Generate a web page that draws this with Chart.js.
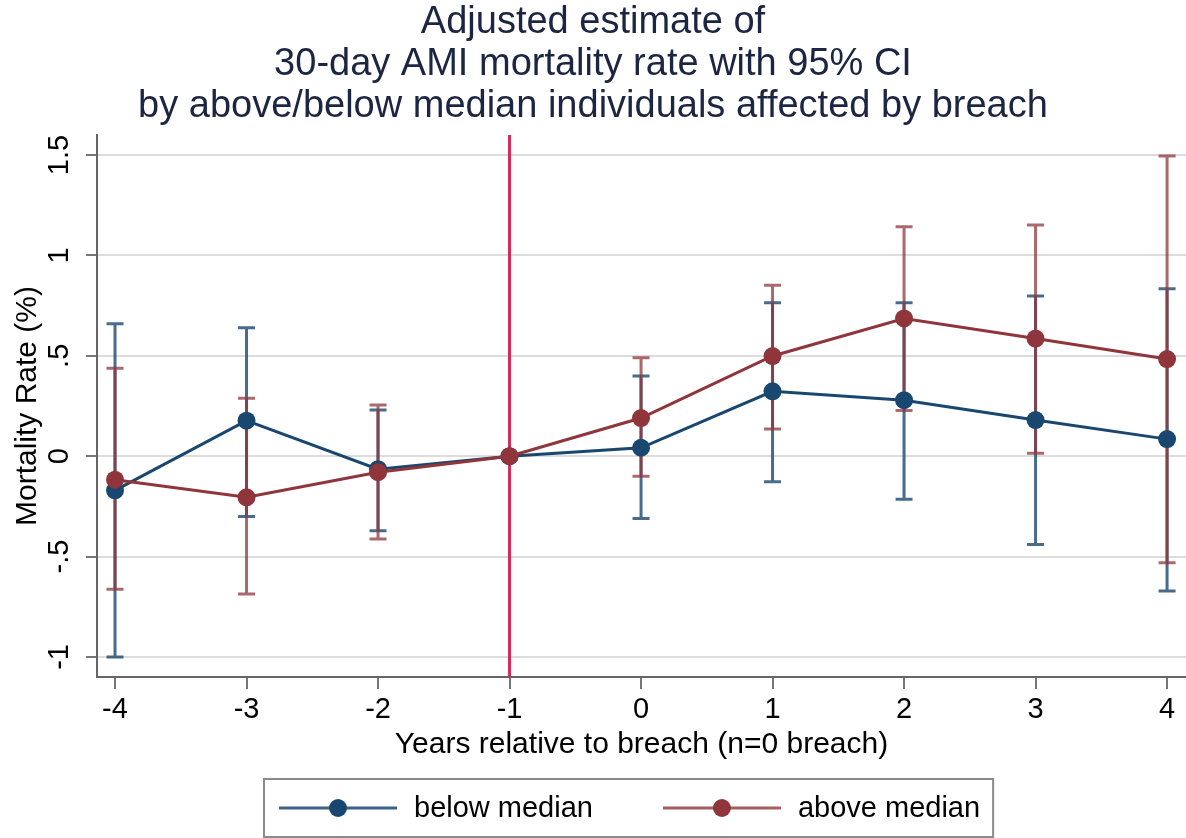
<!DOCTYPE html>
<html><head><meta charset="utf-8">
<script src="https://cdn.jsdelivr.net/npm/chart.js@4.4.1/dist/chart.umd.min.js"></script>
<style>html,body{margin:0;padding:0;background:#fff;overflow:hidden}</style>
</head><body>
<canvas id="c" width="1186" height="838"></canvas>
<script>
// ---- data ----
const years = [-4, -3, -2, -1, 0, 1, 2, 3, 4];
const belowMedian      = [-0.170, 0.177, -0.065, 0, 0.042, 0.323, 0.279, 0.180, 0.085];
const belowMedianLower = [-1.000, -0.300, -0.372, null, -0.310, -0.127, -0.214, -0.440, -0.671];
const belowMedianUpper = [0.660, 0.640, 0.230, null, 0.400, 0.764, 0.764, 0.798, 0.834];
const aboveMedian      = [-0.117, -0.205, -0.080, 0, 0.190, 0.499, 0.686, 0.586, 0.484];
const aboveMedianLower = [-0.663, -0.687, -0.413, null, -0.100, 0.136, 0.227, 0.015, -0.531];
const aboveMedianUpper = [0.438, 0.288, 0.255, null, 0.490, 0.851, 1.143, 1.152, 1.496];
const seriesLabels = ['below median', 'above median'];
const xTickValues = [-4, -3, -2, -1, 0, 1, 2, 3, 4];
const yTickValues = [-1, -0.5, 0, 0.5, 1, 1.5];
const breachYear = -1;
const titleLines = ['Adjusted estimate of', '30-day AMI mortality rate with 95% CI', 'by above/below median individuals affected by breach'];
const xTitle = 'Years relative to breach (n=0 breach)';
const yTitle = 'Mortality Rate (%)';

const FONT = "'Liberation Sans', Arial, Helvetica, sans-serif";
const BLUE = '#1a476f', RED = '#90353b';
const BLUE_CI = 'rgba(26,71,111,0.80)', RED_CI = 'rgba(144,53,59,0.75)';

function fmt(v) {
  if (v === 0) return '0';
  const a = Math.abs(v);
  const s = (a < 1 ? String(a).replace(/^0\./, '.') : String(a));
  return (v < 0 ? '-' : '') + s;
}
const pts = arr => years.map((x, i) => ({ x: x, y: arr[i] }));

const errorBars = [
  { lower: belowMedianLower, upper: belowMedianUpper, color: BLUE_CI },
  { lower: aboveMedianLower, upper: aboveMedianUpper, color: RED_CI }
];

const extras = {
  id: 'extras',
  beforeDatasetsDraw(chart) {
    const { ctx, chartArea: a, scales: { x, y } } = chart;
    ctx.save();
    const bx = x.getPixelForValue(breachYear);
    ctx.strokeStyle = '#d42a5b';
    ctx.lineWidth = 3;
    ctx.beginPath(); ctx.moveTo(bx, a.top); ctx.lineTo(bx, a.bottom); ctx.stroke();
    const half = 8.5;
    errorBars.forEach(eb => {
      ctx.strokeStyle = eb.color;
      ctx.lineWidth = 3;
      years.forEach((yr, i) => {
        if (eb.lower[i] == null) return;
        const px = x.getPixelForValue(yr);
        const lo = y.getPixelForValue(eb.lower[i]);
        const hi = y.getPixelForValue(eb.upper[i]);
        ctx.beginPath();
        ctx.moveTo(px, lo); ctx.lineTo(px, hi);
        ctx.moveTo(px - half, lo); ctx.lineTo(px + half, lo);
        ctx.moveTo(px - half, hi); ctx.lineTo(px + half, hi);
        ctx.stroke();
      });
    });
    ctx.restore();
  },
  afterDraw(chart) {
    const { ctx, scales: { y } } = chart;
    ctx.save();
    ctx.fillStyle = '#000';
    ctx.font = '29px ' + FONT;
    ctx.textAlign = 'center';
    ctx.textBaseline = 'middle';
    y.ticks.forEach(t => {
      const py = y.getPixelForValue(t.value);
      ctx.save();
      ctx.translate(60, py);
      ctx.rotate(-Math.PI / 2);
      ctx.fillText(fmt(t.value), 0, 0);
      ctx.restore();
    });
    const ds = chart.data.datasets;
    ctx.font = '29px ' + FONT;
    const sampleW = 118, g1 = 17, g2 = 70, padL = 15, padR = 13;
    const widths = ds.map(d => ctx.measureText(d.label).width);
    let inner = 0;
    widths.forEach((w, i) => { inner += sampleW + g1 + w + (i < widths.length - 1 ? g2 : 0); });
    const boxW = padL + inner + padR;
    const cx = 629;
    const bx0 = Math.round(cx - boxW / 2), by0 = 779, bh = 58;
    ctx.strokeStyle = '#8a8a8a';
    ctx.lineWidth = 2;
    ctx.strokeRect(bx0, by0, boxW, bh);
    let xx = bx0 + padL;
    const cy = by0 + bh / 2;
    ds.forEach((d, i) => {
      ctx.strokeStyle = d.legendLine;
      ctx.lineWidth = 3;
      ctx.beginPath(); ctx.moveTo(xx, cy); ctx.lineTo(xx + sampleW, cy); ctx.stroke();
      ctx.fillStyle = d.borderColor;
      ctx.beginPath(); ctx.arc(xx + sampleW / 2, cy, 9, 0, Math.PI * 2); ctx.fill();
      xx += sampleW + g1;
      ctx.fillStyle = '#000';
      ctx.textAlign = 'left';
      ctx.textBaseline = 'middle';
      ctx.fillText(d.label, xx, cy + 1);
      xx += widths[i] + g2;
    });
    ctx.restore();
  }
};

new Chart(document.getElementById('c'), {
  type: 'line',
  data: {
    datasets: [
      { label: seriesLabels[0], data: pts(belowMedian), borderColor: BLUE, backgroundColor: BLUE,
        legendLine: 'rgba(26,71,111,0.85)', borderWidth: 3, pointRadius: 9, pointBorderWidth: 0,
        pointBackgroundColor: BLUE, tension: 0, order: 2, clip: false },
      { label: seriesLabels[1], data: pts(aboveMedian), borderColor: RED, backgroundColor: RED,
        legendLine: 'rgba(144,53,59,0.8)', borderWidth: 3, pointRadius: 9, pointBorderWidth: 0,
        pointBackgroundColor: RED, tension: 0, order: 1, clip: false }
    ]
  },
  options: {
    responsive: false,
    animation: false,
    devicePixelRatio: 1,
    layout: { autoPadding: false, padding: { top: 0, left: 0, right: 0, bottom: 75 } },
    plugins: {
      legend: { display: false },
      tooltip: { enabled: false },
      title: {
        display: true, text: titleLines, color: '#1c2541',
        font: { family: FONT, size: 38, weight: 'normal', lineHeight: 1.1 },
        padding: { top: 2, bottom: 7.6 }
      }
    },
    scales: {
      x: {
        type: 'linear', min: -4.137, max: 4.144,
        afterBuildTicks: s => { s.ticks = xTickValues.map(v => ({ value: v })); },
        afterFit: s => { s.height = 86; s.paddingRight = 0; s.paddingLeft = 0; },
        grid: { drawOnChartArea: false, drawTicks: true, tickLength: 12, tickColor: '#777', tickWidth: 2, lineWidth: 2 },
        border: { color: '#666', width: 2 },
        ticks: { color: '#000', font: { family: FONT, size: 29 }, padding: 4, maxRotation: 0, autoSkip: false, callback: v => fmt(v) },
        title: { display: true, text: xTitle, color: '#000', font: { family: FONT, size: 30 }, padding: { top: 0, bottom: 0 } }
      },
      y: {
        type: 'linear', min: -1.1, max: 1.6,
        afterBuildTicks: s => { s.ticks = yTickValues.map(v => ({ value: v })); },
        afterFit: s => { s.width = 97; s.paddingTop = 0; s.paddingBottom = 0; },
        grid: { color: '#dcdcdc', lineWidth: 2, drawTicks: true, tickLength: 11, tickColor: '#777', tickWidth: 2 },
        border: { color: '#666', width: 2 },
        ticks: { display: false },
        title: { display: true, text: yTitle, color: '#000', font: { family: FONT, size: 30 }, padding: { top: 10, bottom: 0 } }
      }
    }
  },
  plugins: [extras]
});
</script>
</body></html>
